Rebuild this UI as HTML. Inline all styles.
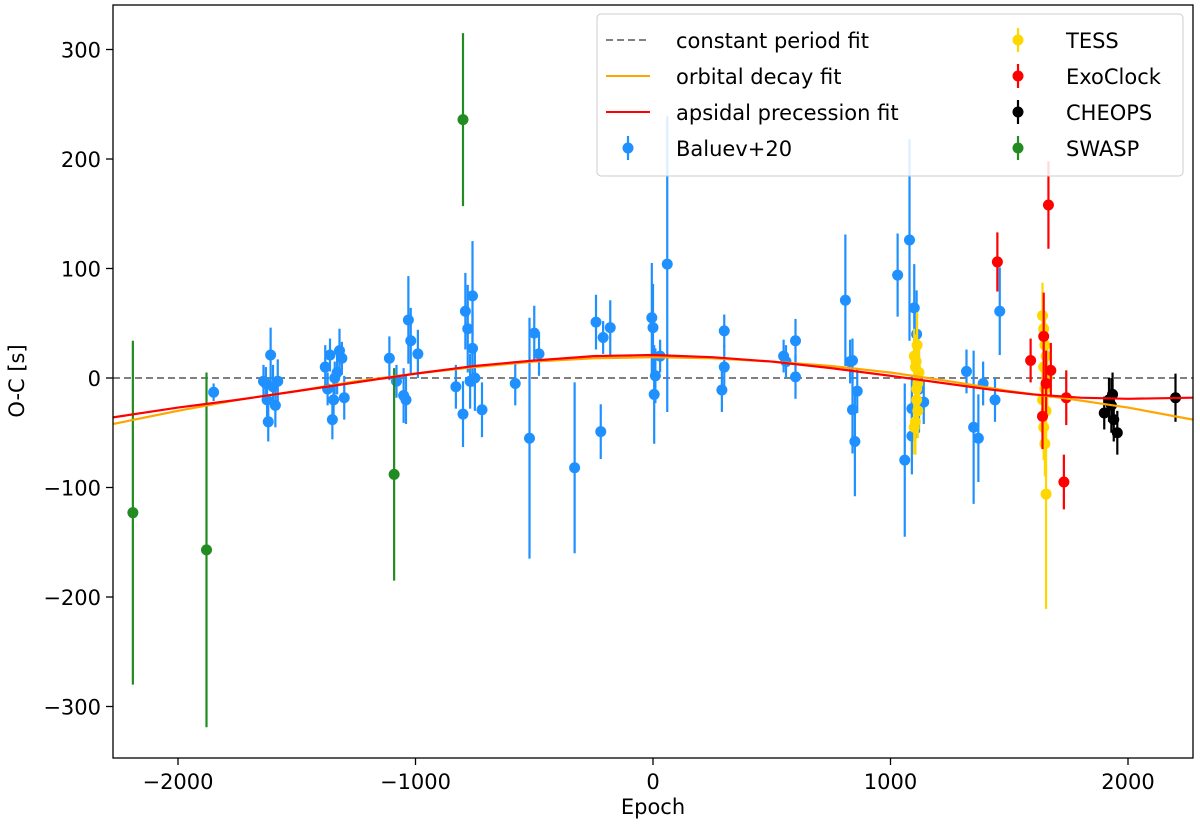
<!DOCTYPE html>
<html><head><meta charset="utf-8"><style>
body{margin:0;background:#fff;}
svg text{font-family:"DejaVu Sans","Liberation Sans",sans-serif;}
</style></head><body>
<svg id="chart" width="1200" height="826" xmlns="http://www.w3.org/2000/svg"></svg>
<script>
const swasp=[[-2190,-123,157],[-1880,-157,162],[-1090,-88,97],[-800,236,79]];
const tess=[[1100,20,25],[1105,10,25],[1110,-10,25],[1115,-30,25],[1100,-45,25],[1120,5,30],[1110,-20,25],[1105,-40,30],[1115,-5,25],[1108,15,25],[1112,30,30],
[1640,57,30],[1645,45,30],[1650,30,30],[1655,20,30],[1645,10,30],[1660,0,30],[1650,-10,30],[1640,-20,30],[1655,-30,30],[1645,-45,30],[1650,-60,30],[1655,-106,105]];
const exoclock=[[1450,106,27],[1590,16,20],[1640,-35,30],[1645,38,40],[1665,158,40],[1675,7,25],[1730,-95,25],[1740,-18,25],[1655,-5,30]];
const cheops=[[1900,-32,15],[1920,-20,20],[1930,-25,25],[1940,-38,20],[1955,-50,20],[1935,-15,20],[2200,-18,22]];
const baluev=[[-1850,-13,8],[-1630,-5,15],[-1625,-20,20],[-1620,-40,18],[-1610,21,25],[-1600,-8,20],[-1590,-25,20],[-1580,-3,20],[-1640,-3,15],
[-1380,10,20],[-1370,-10,15],[-1360,21,15],[-1350,-38,18],[-1340,0,15],[-1330,5,20],[-1320,25,20],[-1310,18,15],[-1300,-18,20],[-1345,-20,20],
[-1110,18,20],[-1080,-3,15],[-1050,-16,25],[-1030,53,40],[-1020,34,30],[-990,22,22],[-1040,-20,22],
[-830,-8,20],[-800,-33,30],[-790,61,35],[-780,45,40],[-770,-3,25],[-760,75,50],[-750,0,30],[-760,27,35],[-720,-29,25],
[-580,-5,20],[-520,-55,110],[-500,41,25],[-480,22,20],[-330,-82,78],[-240,51,25],[-220,-49,25],[-210,37,15],[-180,46,25],
[-5,55,50],[0,46,40],[5,-15,45],[10,2,25],[30,20,15],[60,104,135],
[290,-11,20],[300,43,15],[300,10,20],[550,20,15],[560,15,15],[600,1,20],[600,34,20],
[810,71,60],[830,15,20],[840,16,20],[840,-29,40],[850,-58,50],[860,-12,20],
[1030,94,38],[1060,-75,70],[1080,126,92],[1090,-53,35],[1100,64,40],[1110,40,40],[1140,-22,20],[1090,-28,30],[1120,-10,40],
[1320,6,20],[1350,-45,70],[1370,-55,40],[1390,-5,20],[1440,-20,20],[1460,61,40]];
const decayEpoch=[-2274,-2000,-1750,-1500,-1250,-1000,-750,-500,-250,0,250,500,750,1000,1250,1500,1750,2000,2274];
const decayOC=[-42,-30,-20,-12,-3,4,10,15,18,19,18,15,11,5,-3,-12,-19,-27,-38];
const apsEpoch=[-2274,-2000,-1750,-1500,-1250,-1000,-750,-500,-250,0,250,500,750,1000,1200,1400,1600,1800,2000,2274];
const apsOC=[-36,-27,-20,-12,-4,4,11,16,20,21,19,15,9,2,-4,-10,-15,-18,-19,-18];
const xTicks=[-2000,-1000,0,1000,2000];
const yTicks=[-300,-200,-100,0,100,200,300];

const L=113,R=1193,T=5,B=758;
const X=v=>653+v*0.2375;
const Y=v=>378-v*1.095;
const svg=document.getElementById('chart');
const NS='http://www.w3.org/2000/svg';
function mk(tag,attrs,parent){const e=document.createElementNS(NS,tag);for(const k in attrs)e.setAttribute(k,attrs[k]);(parent||svg).appendChild(e);return e;}
const clip=mk('clipPath',{id:'pc'});mk('rect',{x:L,y:T,width:R-L,height:B-T},clip);
const plot=mk('g',{'clip-path':'url(#pc)'});


let zl=mk('line',{x1:L,x2:R,y1:Y(0),y2:Y(0),stroke:'#808080','stroke-width':2,'stroke-dasharray':'7,4'},plot);


function series(data,color,name){
 const g=mk('g',{},plot);
 
 
 data.forEach(d=>{
  mk('line',{x1:X(d[0]),x2:X(d[0]),y1:Y(d[1]+d[2]),y2:Y(d[1]-d[2]),stroke:color,'stroke-width':2.2},g);
  const c=mk('circle',{cx:X(d[0]),cy:Y(d[1]),r:5.5,fill:color},g);
  
  
 });
}
series(baluev,'#1e90ff','baluev-series');
series(swasp,'#228b22','swasp-series');
series(tess,'#ffd700','tess-series');
series(exoclock,'#ff0000','exoclock-series');
series(cheops,'#000000','cheops-series');
function curve(xs,ys,color,name){
 const p=mk('polyline',{points:xs.map((x,i)=>X(x)+','+Y(ys[i])).join(' '),fill:'none',stroke:color,'stroke-width':2.2,'stroke-linejoin':'round'},plot);
 
 
}
curve(decayEpoch,decayOC,'#ffa500','orbital-decay-fit');
curve(apsEpoch,apsOC,'#ff0000','apsidal-precession-fit');
let fr=mk('rect',{x:L,y:T,width:R-L,height:B-T,fill:'none',stroke:'#000','stroke-width':1.3});


xTicks.forEach(t=>{
 mk('line',{x1:X(t),x2:X(t),y1:B,y2:B+7,stroke:'#000','stroke-width':1.3});
 const tx=mk('text',{x:X(t),y:B+31,'text-anchor':'middle','font-size':21});
 tx.textContent=t<0?'\u2212'+(-t):t;
 
 
});
yTicks.forEach(t=>{
 mk('line',{x1:L-7,x2:L,y1:Y(t),y2:Y(t),stroke:'#000','stroke-width':1.3});
 const tx=mk('text',{x:L-12,y:Y(t)+8,'text-anchor':'end','font-size':21});
 tx.textContent=t<0?'\u2212'+(-t):t;
 
 
});
let xt=mk('text',{x:653,y:814,'text-anchor':'middle','font-size':21});xt.textContent='Epoch';


let yt=mk('text',{x:0,y:0,'text-anchor':'middle','font-size':21,transform:'translate(24,381) rotate(-90)'});yt.textContent='O-C [s]';


const lg=mk('g',{});


mk('rect',{x:597,y:14,width:586,height:162,rx:4,fill:'#fff','fill-opacity':0.85,stroke:'#ccc'},lg);
const entries=[['constant period fit','dash','#808080',606,40],['orbital decay fit','line','#ffa500',606,76],['apsidal precession fit','line','#ff0000',606,112],['Baluev+20','pt','#1e90ff',606,148],
['TESS','pt','#ffd700',996,40],['ExoClock','pt','#ff0000',996,76],['CHEOPS','pt','#000000',996,112],['SWASP','pt','#228b22',996,148]];
entries.forEach(e=>{
 const g=mk('g',{},lg);
 
 
 const [lab,kind,c,x,y]=e;
 if(kind==='pt'){mk('line',{x1:x+22,x2:x+22,y1:y-12,y2:y+12,stroke:c,'stroke-width':2.2},g);mk('circle',{cx:x+22,cy:y,r:5.5,fill:c},g);}
 else mk('line',{x1:x,x2:x+44,y1:y,y2:y,stroke:c,'stroke-width':2,'stroke-dasharray':kind==='dash'?'7,4':'none'},g);
 const t=mk('text',{x:x+70,y:y+8,'font-size':21},g);t.textContent=lab;
});
</script>
</body></html>
